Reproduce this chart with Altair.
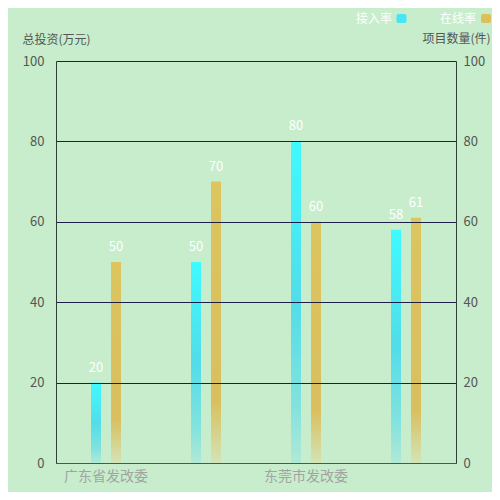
import altair as alt
import pandas as pd

# ---- data ----
categories = ["广东省发改委", "广州市发改委", "东莞市发改委", "深圳市发改委"]
shown_labels = ["广东省发改委", "东莞市发改委"]
series_names = ["接入率", "在线率"]
access_rate = [20, 50, 80, 58]
online_rate = [50, 70, 60, 61]
y_ticks = [0, 20, 40, 60, 80, 100]
left_title = "总投资(万元)"
right_title = "项目数量(件)"

rows = []
for c, a, o in zip(categories, access_rate, online_rate):
    rows.append({"cat": c, "series": series_names[0], "value": a})
    rows.append({"cat": c, "series": series_names[1], "value": o})
df = pd.DataFrame(rows)

FONT = "Noto Sans CJK SC"
BG = "#C7EDCC"
GRID = "#1c1f48"

cyan_grad = alt.Gradient(
    gradient="linear", x1=0, y1=0, x2=0, y2=1,
    stops=[
        alt.GradientStop(offset=0, color="#3ffaff"),
        alt.GradientStop(offset=0.5, color="#52dde9"),
        alt.GradientStop(offset=0.82, color="#82e2de"),
        alt.GradientStop(offset=1, color="#b0e9d6"),
    ],
)
gold_grad = alt.Gradient(
    gradient="linear", x1=0, y1=0, x2=0, y2=1,
    stops=[
        alt.GradientStop(offset=0, color="#dcc45e"),
        alt.GradientStop(offset=0.78, color="#d9bf5e"),
        alt.GradientStop(offset=1, color="#d3e4b6"),
    ],
)

x = alt.X(
    "cat:N", sort=categories,
    scale=alt.Scale(domain=categories, paddingInner=0, paddingOuter=0),
    axis=alt.Axis(values=shown_labels, title=None, labelAngle=0, ticks=False, tickSize=0,
                  domainColor="#4a5555", labelColor="#a3a3a3", labelFontSize=14,
                  labelPadding=6, labelFont=FONT, zindex=2),
)
xoff = alt.XOffset(
    "series:N", sort=series_names,
    scale=alt.Scale(domain=series_names, range=[35, 65], paddingInner=0.5, paddingOuter=0),
)
yscale = alt.Scale(domain=[0, 100], nice=False)

y_left = alt.Y(
    "value:Q", scale=yscale,
    axis=alt.Axis(values=y_ticks, title=left_title, titleAngle=0, titleAlign="left",
                  titleX=-34, titleY=-22, titleBaseline="middle", titleColor="#555555",
                  titleFontSize=12, titleFontWeight="normal", titleFont=FONT,
                  ticks=False, tickSize=0, labelPadding=12, labelColor="#555555",
                  labelFontSize=13, labelFont=FONT, grid=True, gridColor=GRID,
                  domainColor="#333a3a", zindex=1),
)
y_right = alt.Y(
    "value:Q", scale=yscale,
    axis=alt.Axis(orient="right", values=y_ticks, title=right_title, titleAngle=0,
                  titleAlign="left", titleX=-34, titleY=-23, titleBaseline="middle",
                  titleColor="#555555", titleFontSize=12, titleFontWeight="normal",
                  titleFont=FONT, ticks=False, tickSize=0, labelPadding=7,
                  labelColor="#555555", labelFontSize=13, labelFont=FONT, grid=False,
                  domainColor="#333a3a", zindex=1),
)
y_none = alt.Y("value:Q", scale=yscale, axis=None)

base = alt.Chart(df)

bars_cyan = base.transform_filter(alt.datum.series == series_names[0]).mark_bar(
    color=cyan_grad).encode(x=x, xOffset=xoff, y=y_left)
bars_gold = base.transform_filter(alt.datum.series == series_names[1]).mark_bar(
    color=gold_grad).encode(x=x, xOffset=xoff, y=y_right)
labels = base.mark_text(color="white", fontSize=13, font=FONT, baseline="bottom",
                        dy=-8).encode(x=x, xOffset=xoff, y=y_none, text="value:Q")

# ---- custom legend (top right) ----
leg_df0 = pd.DataFrame({"label": [series_names[0]]})
leg_df1 = pd.DataFrame({"label": [series_names[1]]})
leg_t0 = alt.Chart(leg_df0).mark_text(align="right", baseline="middle", color="white",
                                      fontSize=12, font=FONT).encode(
    x=alt.value(336), y=alt.value(-42.5), text="label:N")
leg_t1 = alt.Chart(leg_df1).mark_text(align="right", baseline="middle", color="white",
                                      fontSize=12, font=FONT).encode(
    x=alt.value(420), y=alt.value(-42.5), text="label:N")
leg_r0 = alt.Chart(leg_df0).mark_rect(cornerRadius=2, color="#45e6f5").encode(
    x=alt.value(340.5), x2=alt.value(350.5), y=alt.value(-47), y2=alt.value(-38))
leg_r1 = alt.Chart(leg_df1).mark_rect(cornerRadius=2, color="#dcc05a").encode(
    x=alt.value(425), x2=alt.value(435), y=alt.value(-47), y2=alt.value(-38))

chart = alt.layer(
    bars_cyan, bars_gold, labels, leg_t0, leg_t1, leg_r0, leg_r1
).resolve_scale(y="independent").properties(
    width=400, height=402,
    autosize=alt.AutoSizeParams(type="none"),
    padding={"left": 48, "top": 53, "right": 36, "bottom": 29},
    background=BG,
).configure_view(stroke=None).configure(font=FONT)

chart.save("out.html", embed_options={"renderer": "svg", "actions": False})
